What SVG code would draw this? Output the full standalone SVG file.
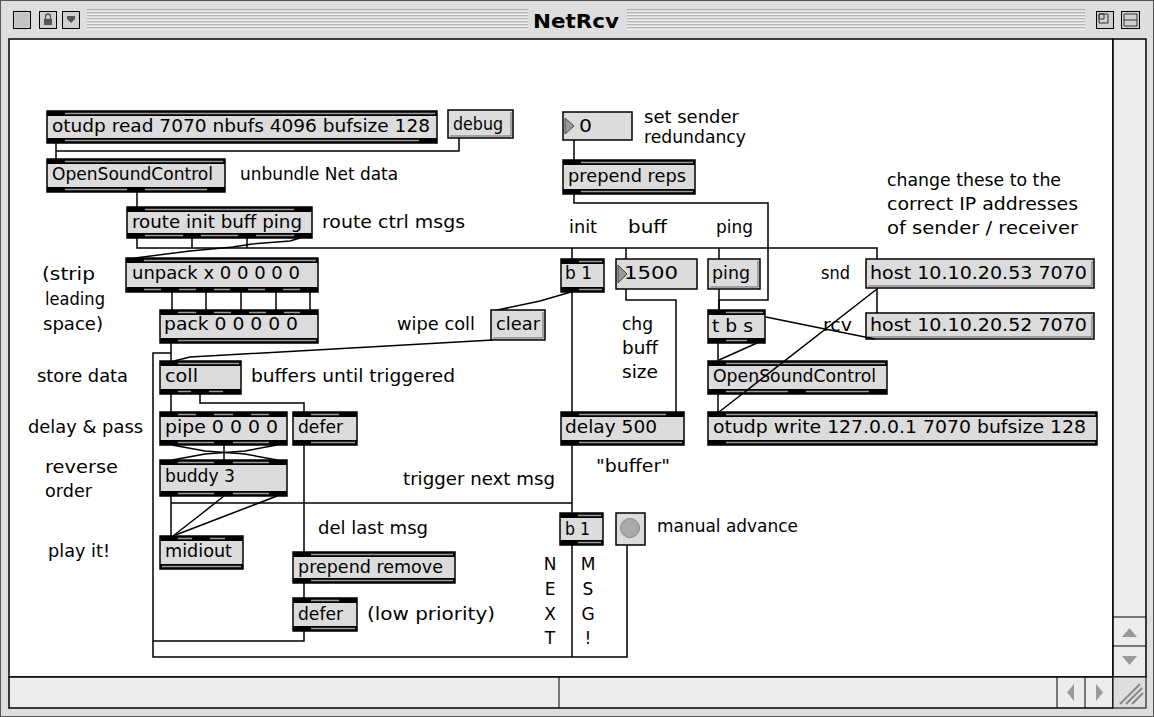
<svg xmlns="http://www.w3.org/2000/svg" width="1154" height="717" viewBox="0 0 1154 717">
<style>
.ob{fill:#dcdcdc;stroke:#000;stroke-width:1.5}
.bd{fill:#000}
.gs{stroke:#9a9a9a;stroke-width:1.3;fill:none}
.mb{fill:#dcdcdc;stroke:#000;stroke-width:1.5}
.sh{stroke:#666;stroke-width:1;fill:none}
.t{font-family:"DejaVu Sans",Verdana,sans-serif;font-size:17px;fill:#000}
.tt{font-family:"DejaVu Sans",Verdana,sans-serif;font-size:20px;font-weight:bold;fill:#000}
.c{fill:none;stroke:#000;stroke-width:1.5}
.tri{fill:#9a9a9a;stroke:#444;stroke-width:1}
.stripe{stroke:#8a8a8a;stroke-width:1}
.hl{stroke:#fff;stroke-width:1}
.wb{fill:#d0d0d0;stroke:#000;stroke-width:1}
</style>

<!-- window chrome -->
<rect x="0.5" y="0.5" width="1153" height="716" fill="#dedede" stroke="#555" stroke-width="1"/>
<g id="titlebar">
  <path class="stripe" d="M87 10H528M87 13H528M87 16H528M87 19H528M87 22H528M87 25H528M87 28H528M627 10H1085M627 13H1085M627 16H1085M627 19H1085M627 22H1085M627 25H1085M627 28H1085"/>
  <path class="hl" d="M87 11H528M87 14H528M87 17H528M87 20H528M87 23H528M87 26H528M87 29H528M627 11H1085M627 14H1085M627 17H1085M627 20H1085M627 23H1085M627 26H1085M627 29H1085"/>
  <text class="tt" x="576" y="28" text-anchor="middle" textLength="86" lengthAdjust="spacingAndGlyphs">NetRcv</text>
  <rect class="wb" x="13.5" y="11.5" width="17" height="17"/>
  <rect x="15" y="13" width="14" height="14" fill="#c4c4c4"/>
  <rect class="wb" x="39.5" y="11.5" width="17" height="17"/>
  <rect x="44" y="19" width="8" height="6" fill="#555"/>
  <path d="M45.5 19V16.5a2.5 2.5 0 0 1 5 0V19" fill="none" stroke="#555" stroke-width="1.3"/>
  <rect class="wb" x="62.5" y="11.5" width="17" height="17"/>
  <path d="M67 16h8v3l-4 4l-4-4z" fill="#555"/>
  <rect class="wb" x="1096.5" y="11.5" width="17" height="17"/>
  <path d="M1099 14h9v9h-9zM1099 14h5v5h-5z" fill="none" stroke="#333" stroke-width="1"/>
  <rect class="wb" x="1121.5" y="11.5" width="18" height="17"/>
  <path d="M1124 14h13v12h-13zM1124 20h13" fill="none" stroke="#333" stroke-width="1"/>
</g>
<rect x="9" y="39" width="1104" height="638" fill="#fff" stroke="#000" stroke-width="1.5"/>
<g id="vscroll">
  <rect x="1113" y="39" width="33" height="638" fill="#ececec" stroke="#000" stroke-width="1.5"/>
  <path d="M1113 617H1146M1113 646H1146" stroke="#000" stroke-width="1"/>
  <polygon points="1122,637 1129.5,628 1137,637" fill="#9a9a9a"/>
  <polygon points="1122,656 1137,656 1129.5,665" fill="#9a9a9a"/>
</g>
<g id="hscroll">
  <rect x="9" y="677" width="1104" height="31" fill="#ececec" stroke="#000" stroke-width="1.5"/>
  <path d="M559 677V708M1057 677V708M1085 677V708" stroke="#000" stroke-width="1"/>
  <polygon points="1074,684 1067,692.5 1074,701" fill="#9a9a9a"/>
  <polygon points="1096,684 1103,692.5 1096,701" fill="#9a9a9a"/>
  <rect x="1113" y="677" width="33" height="31" fill="#dedede" stroke="#000" stroke-width="1"/>
  <path d="M1120 704L1140 684M1126 704L1142 688M1132 704L1143 693" stroke="#888" stroke-width="2"/>
</g>

<!-- connectors -->
<g id="connectors" class="c">
  <path d="M56 143V159"/>
  <path d="M459 138V151H56"/>
  <path d="M137 192V207"/>
  <path d="M137 238V248H877V259"/>
  <path d="M192 238V248"/>
  <path d="M247 238V248"/>
  <path d="M572 248V259M626 248V259M719 248V259"/>
  <path d="M877 288V313"/>
  <path d="M300 238L290 241L252 244L233 247L190 251L135 258"/>
  <path d="M172 292V310M206 292V310M241 292V310M276 292V310M310 292V310"/>
  <path d="M171 343V361"/>
  <path d="M304 631V641H153V353H171"/>
  <path d="M153 641V657H627V545"/>
  <path d="M572 545V657"/>
  <path d="M493 340L190 357L174 361"/>
  <path d="M571 292L540 301L493 311"/>
  <path d="M572 292V412"/>
  <path d="M626 289V300H676V412"/>
  <path d="M574 140V160"/>
  <path d="M574 194V203H768V300H719V310"/>
  <path d="M719 289V310"/>
  <path d="M718 343V361"/>
  <path d="M757 343L719 360"/>
  <path d="M718 394V412"/>
  <path d="M200 394V403H304V412"/>
  <path d="M171 394V412"/>
  <path d="M172 445L205 451L245 454L277 460"/>
  <path d="M277 445L245 451L205 454L172 460"/>
  <path d="M224 445V460"/>
  <path d="M171 496V536"/>
  <path d="M224 496L200 515L173 536"/>
  <path d="M277 496L225 516L173 536"/>
  <path d="M171 503H572"/>
  <path d="M572 445V513"/>
  <path d="M304 445V552"/>
  <path d="M304 583V598"/>
</g>

<!-- nodes -->
<g id="otudp-read">
  <rect class="ob" x="47" y="111" width="390" height="32"/>
  <rect class="bd" x="47" y="111" width="390" height="5"/><rect class="bd" x="47" y="138" width="390" height="5"/>
  <path class="gs" d="M65 113.5H435M65 140.5H419"/>
  <text class="t" x="52" y="132" textLength="378" lengthAdjust="spacingAndGlyphs">otudp read 7070 nbufs 4096 bufsize 128</text>
</g>
<g id="debug">
  <rect class="mb" x="448" y="110" width="65" height="28"/>
  <path class="sh" d="M511 112V136H450"/>
  <text class="t" x="453" y="130" textLength="50" lengthAdjust="spacingAndGlyphs">debug</text>
</g>
<g id="osc-in">
  <rect class="ob" x="47" y="159" width="178" height="33"/>
  <rect class="bd" x="47" y="159" width="178" height="5"/><rect class="bd" x="47" y="187" width="178" height="5"/>
  <path class="gs" d="M65 161.5H223M65 189.5H127M145 189.5H207"/>
  <text class="t" x="52" y="180" textLength="161" lengthAdjust="spacingAndGlyphs">OpenSoundControl</text>
</g>
<text class="t" x="240" y="180" textLength="158" lengthAdjust="spacingAndGlyphs">unbundle Net data</text>
<g id="route">
  <rect class="ob" x="127" y="207" width="185" height="31"/>
  <rect class="bd" x="127" y="207" width="185" height="5"/><rect class="bd" x="127" y="233" width="185" height="5"/>
  <path class="gs" d="M145 209.5H294M145 235.5H183M201 235.5H238M256 235.5H294"/>
  <text class="t" x="132" y="228" textLength="170" lengthAdjust="spacingAndGlyphs">route init buff ping</text>
</g>
<text class="t" x="322" y="228" textLength="143" lengthAdjust="spacingAndGlyphs">route ctrl msgs</text>
<g id="unpack">
  <rect class="ob" x="126" y="258" width="192" height="34"/>
  <rect class="bd" x="126" y="258" width="192" height="5"/><rect class="bd" x="126" y="287" width="192" height="5"/>
  <path class="gs" d="M144 260.5H316M144 289.5H161M179 289.5H196M214 289.5H230M248 289.5H265M283 289.5H300"/>
  <text class="t" x="132" y="279" textLength="168" lengthAdjust="spacingAndGlyphs">unpack x 0 0 0 0 0</text>
</g>
<text class="t" x="42" y="280" textLength="53" lengthAdjust="spacingAndGlyphs">(strip</text>
<text class="t" x="45" y="305" textLength="60" lengthAdjust="spacingAndGlyphs">leading</text>
<text class="t" x="43" y="330" textLength="60" lengthAdjust="spacingAndGlyphs">space)</text>
<g id="pack">
  <rect class="ob" x="160" y="310" width="158" height="33"/>
  <rect class="bd" x="160" y="310" width="158" height="5"/><rect class="bd" x="160" y="338" width="158" height="5"/>
  <path class="gs" d="M178 312.5H196M214 312.5H231M249 312.5H266M284 312.5H300M178 340.5H316"/>
  <text class="t" x="164" y="330" textLength="134" lengthAdjust="spacingAndGlyphs">pack 0 0 0 0 0</text>
</g>
<text class="t" x="397" y="330" textLength="78" lengthAdjust="spacingAndGlyphs">wipe coll</text>
<g id="clear">
  <rect class="mb" x="491" y="310" width="54" height="30"/>
  <path class="sh" d="M543 312V338H493"/>
  <text class="t" x="496" y="330" textLength="44" lengthAdjust="spacingAndGlyphs">clear</text>
</g>
<g id="coll">
  <rect class="ob" x="160" y="361" width="81" height="33"/>
  <rect class="bd" x="160" y="361" width="81" height="5"/><rect class="bd" x="160" y="389" width="81" height="5"/>
  <path class="gs" d="M178 363.5H239M178 391.5H191M209 391.5H223"/>
  <text class="t" x="165" y="382" textLength="33" lengthAdjust="spacingAndGlyphs">coll</text>
</g>
<text class="t" x="37" y="382" textLength="91" lengthAdjust="spacingAndGlyphs">store data</text>
<text class="t" x="251" y="382" textLength="204" lengthAdjust="spacingAndGlyphs">buffers until triggered</text>
<g id="pipe">
  <rect class="ob" x="160" y="412" width="127" height="33"/>
  <rect class="bd" x="160" y="412" width="127" height="5"/><rect class="bd" x="160" y="440" width="127" height="5"/>
  <path class="gs" d="M178 414.5H196M214 414.5H233M251 414.5H269M178 442.5H214M233 442.5H269"/>
  <text class="t" x="165" y="433" textLength="113" lengthAdjust="spacingAndGlyphs">pipe 0 0 0 0</text>
</g>
<text class="t" x="28" y="433" textLength="115" lengthAdjust="spacingAndGlyphs">delay &amp; pass</text>
<g id="defer1">
  <rect class="ob" x="293" y="412" width="64" height="33"/>
  <rect class="bd" x="293" y="412" width="64" height="5"/><rect class="bd" x="293" y="440" width="64" height="5"/>
  <path class="gs" d="M311 414.5H339M311 442.5H355"/>
  <text class="t" x="298" y="433" textLength="45" lengthAdjust="spacingAndGlyphs">defer</text>
</g>
<g id="buddy">
  <rect class="ob" x="160" y="460" width="127" height="36"/>
  <rect class="bd" x="160" y="460" width="127" height="5"/><rect class="bd" x="160" y="491" width="127" height="5"/>
  <path class="gs" d="M178 462.5H214M233 462.5H269M178 493.5H214M233 493.5H269"/>
  <text class="t" x="165" y="482" textLength="70" lengthAdjust="spacingAndGlyphs">buddy 3</text>
</g>
<text class="t" x="45" y="473" textLength="73" lengthAdjust="spacingAndGlyphs">reverse</text>
<text class="t" x="45" y="497" textLength="47" lengthAdjust="spacingAndGlyphs">order</text>
<text class="t" x="403" y="485" textLength="152" lengthAdjust="spacingAndGlyphs">trigger next msg</text>
<text class="t" x="318" y="534" textLength="110" lengthAdjust="spacingAndGlyphs">del last msg</text>
<g id="midiout">
  <rect class="ob" x="160" y="536" width="83" height="33"/>
  <rect class="bd" x="160" y="536" width="83" height="5"/><rect class="bd" x="160" y="564" width="83" height="5"/>
  <path class="gs" d="M178 538.5H192M210 538.5H225M162 566.5H241"/>
  <text class="t" x="165" y="557" textLength="67" lengthAdjust="spacingAndGlyphs">midiout</text>
</g>
<text class="t" x="48" y="557" textLength="62" lengthAdjust="spacingAndGlyphs">play it!</text>
<g id="prepend-remove">
  <rect class="ob" x="293" y="552" width="162" height="31"/>
  <rect class="bd" x="293" y="552" width="162" height="5"/><rect class="bd" x="293" y="578" width="162" height="5"/>
  <path class="gs" d="M311 554.5H453M311 580.5H453"/>
  <text class="t" x="298" y="573" textLength="145" lengthAdjust="spacingAndGlyphs">prepend remove</text>
</g>
<g id="defer2">
  <rect class="ob" x="293" y="598" width="64" height="33"/>
  <rect class="bd" x="293" y="598" width="64" height="5"/><rect class="bd" x="293" y="626" width="64" height="5"/>
  <path class="gs" d="M311 600.5H339M311 628.5H355"/>
  <text class="t" x="298" y="620" textLength="45" lengthAdjust="spacingAndGlyphs">defer</text>
</g>
<text class="t" x="367" y="620" textLength="128" lengthAdjust="spacingAndGlyphs">(low priority)</text>
<g id="next-msg-label">
  <text class="t" x="550" y="570" text-anchor="middle">N</text>
  <text class="t" x="550" y="595" text-anchor="middle">E</text>
  <text class="t" x="550" y="620" text-anchor="middle">X</text>
  <text class="t" x="550" y="644" text-anchor="middle">T</text>
  <text class="t" x="588" y="570" text-anchor="middle">M</text>
  <text class="t" x="588" y="595" text-anchor="middle">S</text>
  <text class="t" x="588" y="620" text-anchor="middle">G</text>
  <text class="t" x="588" y="644" text-anchor="middle">!</text>
</g>
<g id="b1-next">
  <rect class="ob" x="560" y="513" width="43" height="32"/>
  <rect class="bd" x="560" y="513" width="43" height="5"/><rect class="bd" x="560" y="540" width="43" height="5"/>
  <path class="gs" d="M578 515.5H601M578 542.5H601"/>
  <text class="t" x="565" y="535" textLength="25" lengthAdjust="spacingAndGlyphs">b 1</text>
</g>
<g id="bang">
  <rect class="mb" x="616" y="513" width="29" height="32"/>
  <circle cx="630" cy="528" r="9.5" fill="#a8a8a8" stroke="#888" stroke-width="1"/>
</g>
<text class="t" x="657" y="532" textLength="141" lengthAdjust="spacingAndGlyphs">manual advance</text>
<g id="delay">
  <rect class="ob" x="561" y="412" width="123" height="33"/>
  <rect class="bd" x="561" y="412" width="123" height="5"/><rect class="bd" x="561" y="440" width="123" height="5"/>
  <path class="gs" d="M579 414.5H666M579 442.5H682"/>
  <text class="t" x="565" y="433" textLength="92" lengthAdjust="spacingAndGlyphs">delay 500</text>
</g>
<text class="t" x="596" y="472" textLength="74" lengthAdjust="spacingAndGlyphs">"buffer"</text>
<g id="num-reps">
  <rect class="mb" x="563" y="112" width="69" height="28"/>
  <polygon class="tri" points="565,118 574,126 565,134"/>
  <text class="t" x="579" y="132" textLength="13" lengthAdjust="spacingAndGlyphs">0</text>
</g>
<text class="t" x="644" y="123" textLength="95" lengthAdjust="spacingAndGlyphs">set sender</text>
<text class="t" x="644" y="143" textLength="102" lengthAdjust="spacingAndGlyphs">redundancy</text>
<g id="prepend-reps">
  <rect class="ob" x="563" y="160" width="132" height="34"/>
  <rect class="bd" x="563" y="160" width="132" height="5"/><rect class="bd" x="563" y="189" width="132" height="5"/>
  <path class="gs" d="M581 162.5H693M581 191.5H693"/>
  <text class="t" x="568" y="182" textLength="118" lengthAdjust="spacingAndGlyphs">prepend reps</text>
</g>
<text class="t" x="569" y="233" textLength="28" lengthAdjust="spacingAndGlyphs">init</text>
<text class="t" x="628" y="233" textLength="39" lengthAdjust="spacingAndGlyphs">buff</text>
<text class="t" x="716" y="233" textLength="37" lengthAdjust="spacingAndGlyphs">ping</text>
<text class="t" x="887" y="186" textLength="174" lengthAdjust="spacingAndGlyphs">change these to the</text>
<text class="t" x="887" y="210" textLength="191" lengthAdjust="spacingAndGlyphs">correct IP addresses</text>
<text class="t" x="887" y="234" textLength="191" lengthAdjust="spacingAndGlyphs">of sender / receiver</text>
<g id="b1-init">
  <rect class="ob" x="561" y="259" width="43" height="33"/>
  <rect class="bd" x="561" y="259" width="43" height="5"/><rect class="bd" x="561" y="287" width="43" height="5"/>
  <path class="gs" d="M579 261.5H602M579 289.5H602"/>
  <text class="t" x="565" y="279" textLength="27" lengthAdjust="spacingAndGlyphs">b 1</text>
</g>
<g id="num-buff">
  <rect class="mb" x="616" y="259" width="81" height="30"/>
  <polygon class="tri" points="618,265 627,274 618,283"/>
  <text class="t" x="624" y="279" textLength="54" lengthAdjust="spacingAndGlyphs">1500</text>
</g>
<g id="ping">
  <rect class="mb" x="708" y="259" width="52" height="30"/>
  <path class="sh" d="M758 261V287H710"/>
  <text class="t" x="712" y="279" textLength="38" lengthAdjust="spacingAndGlyphs">ping</text>
</g>
<text class="t" x="821" y="279" textLength="29" lengthAdjust="spacingAndGlyphs">snd</text>
<g id="host-snd">
  <rect class="mb" x="866" y="259" width="228" height="29"/>
  <path class="sh" d="M1092 261V286H868"/>
  <text class="t" x="870" y="279" textLength="217" lengthAdjust="spacingAndGlyphs">host 10.10.20.53 7070</text>
</g>
<text class="t" x="823" y="331" textLength="29" lengthAdjust="spacingAndGlyphs">rcv</text>
<g id="host-rcv">
  <rect class="mb" x="866" y="313" width="228" height="26"/>
  <path class="sh" d="M1092 315V337H868"/>
  <text class="t" x="870" y="331" textLength="217" lengthAdjust="spacingAndGlyphs">host 10.10.20.52 7070</text>
</g>
<text class="t" x="622" y="330" textLength="31" lengthAdjust="spacingAndGlyphs">chg</text>
<text class="t" x="622" y="354" textLength="36" lengthAdjust="spacingAndGlyphs">buff</text>
<text class="t" x="622" y="378" textLength="36" lengthAdjust="spacingAndGlyphs">size</text>
<g id="tbs">
  <rect class="ob" x="708" y="310" width="57" height="33"/>
  <rect class="bd" x="708" y="310" width="57" height="5"/><rect class="bd" x="708" y="338" width="57" height="5"/>
  <path class="gs" d="M726 312.5H763M726 340.5H747"/>
  <text class="t" x="712" y="332" textLength="41" lengthAdjust="spacingAndGlyphs">t b s</text>
</g>
<g id="osc-out">
  <rect class="ob" x="708" y="361" width="179" height="33"/>
  <rect class="bd" x="708" y="361" width="179" height="5"/><rect class="bd" x="708" y="389" width="179" height="5"/>
  <path class="gs" d="M726 363.5H885M726 391.5H788M806 391.5H869"/>
  <text class="t" x="713" y="382" textLength="163" lengthAdjust="spacingAndGlyphs">OpenSoundControl</text>
</g>
<g id="otudp-write">
  <rect class="ob" x="708" y="412" width="389" height="33"/>
  <rect class="bd" x="708" y="412" width="389" height="5"/><rect class="bd" x="708" y="440" width="389" height="5"/>
  <path class="gs" d="M726 414.5H1095M726 442.5H1095"/>
  <text class="t" x="713" y="433" textLength="373" lengthAdjust="spacingAndGlyphs">otudp write 127.0.0.1 7070 bufsize 128</text>
</g>

<!-- cords drawn across boxes in the reference -->
<g id="connectors-over" class="c">
  <path d="M875 339L820 328L766 317"/>
  <path d="M877 289L719 412"/>
</g>
</svg>
